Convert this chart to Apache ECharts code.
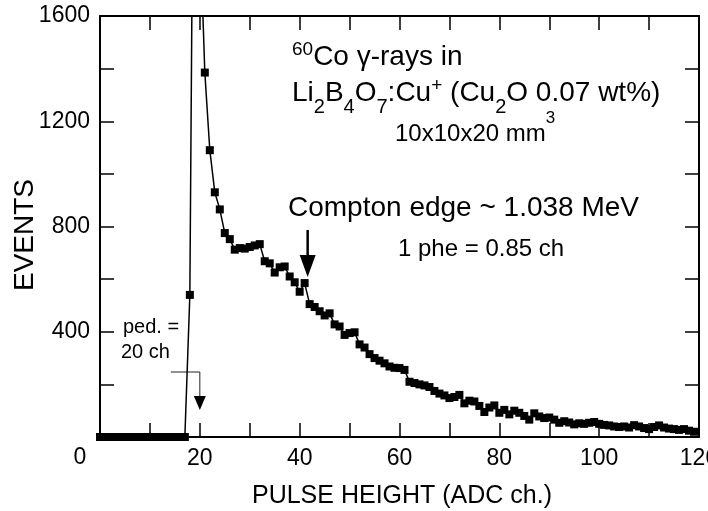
<!DOCTYPE html>
<html>
<head>
<meta charset="utf-8">
<script src="https://cdn.jsdelivr.net/npm/echarts@6/dist/echarts.min.js"></script>
<style>html,body{margin:0;padding:0;background:#fff}#c{width:708px;height:511px}</style>
</head>
<body>
<div id="c"></div>
<script>
// ---- data ----
const events = [
  0,0,0,0,0,0,0,0,0,0,0,0,0,0,0,0,0,0,
  540,3200,1950,1385,1090,930,865,775,752,712,718,716,
  722,728,733,668,660,625,645,648,610,588,
  552,585,505,494,478,462,470,428,420,388,
  395,398,352,340,315,300,290,280,268,263,
  262,255,210,205,200,196,190,175,165,158,
  148,152,160,128,138,135,118,95,112,120,
  92,103,86,100,92,80,66,90,78,72,
  74,66,54,60,55,48,52,50,54,57,
  50,46,44,40,38,40,36,45,40,34,
  30,38,44,36,32,30,27,30,24,20
];
const xLabelValues = [20, 40, 60, 80, 100, 120];
const yLabelValues = [400, 800, 1200, 1600];
const pedArrow = {x0: 14.2, x1: 20, y: 247, tip: 103};
const comptonArrow = {x: 41.6, top: 787, tip: 608};

const FONT = '"Liberation Sans", Arial, Helvetica, sans-serif';
const seriesData = events.map((v, i) => [i, v]);

const axisLine = {show: true, onZero: false, lineStyle: {color: '#000', width: 2}};
const tick = {show: true, inside: true, length: 14, lineStyle: {color: '#000', width: 1.5}};

const chart = echarts.init(document.getElementById('c'), null, {renderer: 'canvas'});
chart.setOption({
  animation: false,
  backgroundColor: '#fff',
  grid: {left: 100, top: 16, right: 9, bottom: 74, outerBoundsMode: 'none', containLabel: false},
  xAxis: [
    {type: 'value', min: 0, max: 120, interval: 10, position: 'bottom',
     axisLine: axisLine, axisTick: tick, splitLine: {show: false},
     axisLabel: {formatter: v => xLabelValues.includes(v) ? String(v) : '',
                 fontSize: 23, color: '#000', fontFamily: FONT, margin: 10}},
    {type: 'value', min: 0, max: 120, interval: 10, position: 'top',
     axisLine: axisLine, axisTick: tick, splitLine: {show: false}, axisLabel: {show: false}}
  ],
  yAxis: [
    {type: 'value', min: 0, max: 1600, interval: 200, position: 'left',
     axisLine: axisLine, axisTick: tick, splitLine: {show: false},
     axisLabel: {formatter: v => yLabelValues.includes(v) ? String(v) : '',
                 fontSize: 23, color: '#000', fontFamily: FONT, margin: 10}},
    {type: 'value', min: 0, max: 1600, interval: 200, position: 'right',
     axisLine: axisLine, axisTick: tick, splitLine: {show: false}, axisLabel: {show: false}}
  ],
  series: [{
    type: 'line', xAxisIndex: 0, yAxisIndex: 0, data: seriesData,
    symbol: 'rect', symbolSize: 8, showAllSymbol: true, clip: true,
    itemStyle: {color: '#000'}, lineStyle: {color: '#000', width: 1.5}
  }]
});

const P = (x, y) => chart.convertToPixel({xAxisIndex: 0, yAxisIndex: 0}, [x, y]);
const pa = P(pedArrow.x0, pedArrow.y), pb = P(pedArrow.x1, pedArrow.y), pt = P(pedArrow.x1, pedArrow.tip);
const ca = P(comptonArrow.x, comptonArrow.top), ct = P(comptonArrow.x, comptonArrow.tip);

function T(x, y, text, size, extra, rot) {
  return {type: 'text', x: x, y: y, rotation: rot || 0, silent: true,
    style: Object.assign({text: text, fontSize: size, fontFamily: FONT, fill: '#000',
      align: 'left', verticalAlign: 'middle'}, extra || {})};
}
const richMain = {
  sp: {fontSize: 19, fontFamily: FONT, fill: '#000', verticalAlign: 'top', height: 34},
  sb: {fontSize: 20, fontFamily: FONT, fill: '#000', verticalAlign: 'bottom', lineHeight: 20}
};
const richSmall = {
  sp: {fontSize: 17, fontFamily: FONT, fill: '#000', verticalAlign: 'top', lineHeight: 20}
};

chart.setOption({
  graphic: [
    T(292, 57, '{sp|60}Co γ-rays in', 28, {lineHeight: 48, rich: richMain}),
    T(292, 93, 'Li{sb|2}B{sb|4}O{sb|7}:Cu{sp|+} (Cu{sb|2}O 0.07 wt%)', 28, {lineHeight: 48, rich: richMain}),
    T(395, 134, '10x10x20 mm{sp|3}', 24, {lineHeight: 48, rich: richSmall}),
    T(288, 208, 'Compton edge ~ 1.038 MeV', 28),
    T(398, 249, '1 phe = 0.85 ch', 24),
    T(123, 327, 'ped. =', 20),
    T(121, 352, '20 ch', 20),
    T(80, 458, '0', 23, {align: 'center'}),
    T(25, 235, 'EVENTS', 28, {align: 'center'}, Math.PI / 2),
    T(402, 496, 'PULSE HEIGHT (ADC ch.)', 25, {align: 'center'}),
    // pedestal arrow
    {type: 'polyline', silent: true, shape: {points: [pa, pb, [pb[0], pt[1] - 12]]},
     style: {stroke: '#222', lineWidth: 1, fill: null}},
    {type: 'polygon', silent: true, shape: {points: [[pt[0] - 6, pt[1] - 14], [pt[0] + 6, pt[1] - 14], pt]},
     style: {fill: '#000'}},
    // Compton edge arrow
    {type: 'line', silent: true, shape: {x1: ca[0], y1: ca[1], x2: ct[0], y2: ct[1] - 18},
     style: {stroke: '#000', lineWidth: 2.5}},
    {type: 'polygon', silent: true, shape: {points: [[ct[0] - 8, ct[1] - 22], [ct[0] + 8, ct[1] - 22], ct]},
     style: {fill: '#000'}}
  ]
});
</script>
</body>
</html>
